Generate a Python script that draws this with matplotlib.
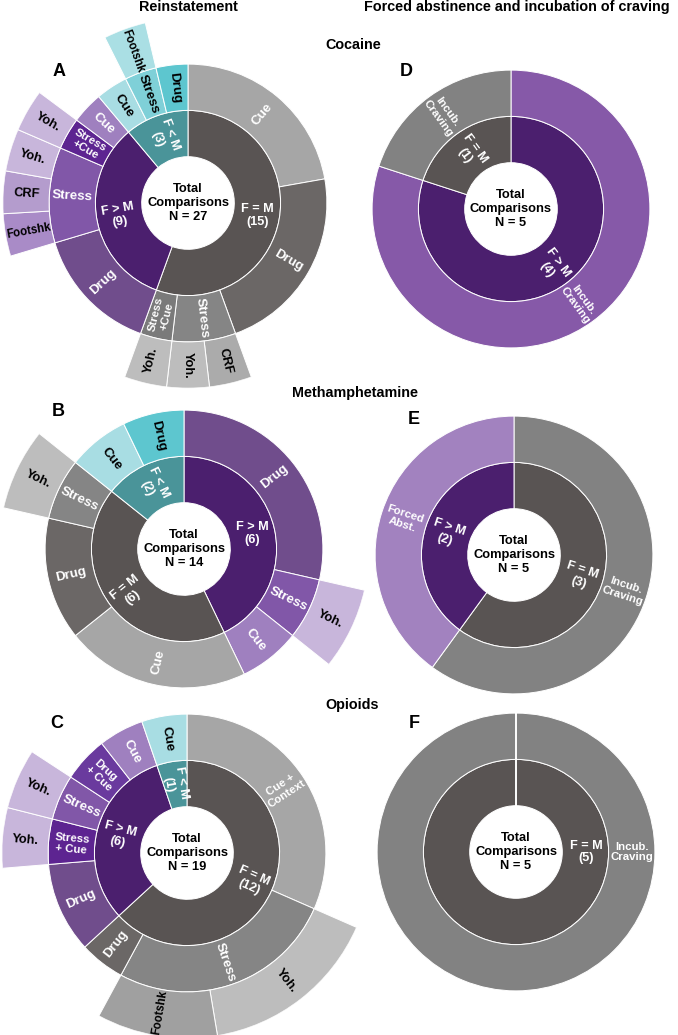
"""Sunbursts of sex differences in reinstatement and incubation of craving."""

import matplotlib.pyplot as plt
import numpy as np

plt.rcParams["font.family"] = ["Liberation Sans", "DejaVu Sans"]

# A - cocaine, reinstatement
a_groups = ["F = M", "F > M", "F < M"]
a_groups_n = [15, 9, 3]
a_tests = ["Cue", "Drug", "Stress", "Stress\n+Cue",
           "Drug", "Stress", "Stress\n+Cue", "Cue",
           "Cue", "Stress", "Drug"]
a_tests_n = [6, 6, 2, 1, 4, 3, 1, 1, 1, 1, 1]
a_tests_parent = [0, 0, 0, 0, 1, 1, 1, 1, 2, 2, 2]
a_stress = ["CRF", "Yoh.", "Yoh.", "Footshk", "CRF", "Yoh.", "Yoh.", "Footshk"]
a_stress_n = [1, 1, 1, 1, 1, 1, 1, 1]
a_stress_parent = [2, 2, 3, 5, 5, 5, 6, 9]

# B - methamphetamine, reinstatement
b_groups = ["F > M", "F = M", "F < M"]
b_groups_n = [6, 6, 2]
b_tests = ["Drug", "Stress", "Cue", "Cue", "Drug", "Stress", "Cue", "Drug"]
b_tests_n = [4, 1, 1, 3, 2, 1, 1, 1]
b_tests_parent = [0, 0, 0, 1, 1, 1, 2, 2]
b_stress = ["Yoh.", "Yoh."]
b_stress_n = [1, 1]
b_stress_parent = [1, 5]

# C - opioids, reinstatement
c_groups = ["F = M", "F > M", "F < M"]
c_groups_n = [12, 6, 1]
c_tests = ["Cue +\nContext", "Stress", "Drug",
           "Drug", "Stress\n+ Cue", "Stress", "Drug\n+ Cue", "Cue",
           "Cue"]
c_tests_n = [6, 5, 1, 2, 1, 1, 1, 1, 1]
c_tests_parent = [0, 0, 0, 1, 1, 1, 1, 1, 2]
c_stress = ["Yoh.", "Footshk", "Yoh.", "Yoh."]
c_stress_n = [3, 2, 1, 1]
c_stress_parent = [1, 1, 4, 5]

# D, E, F - forced abstinence / incubation of craving
d_groups = ["F > M", "F = M"]
d_groups_n = [4, 1]
d_tests = ["Incub.\nCraving", "Incub.\nCraving"]
d_tests_n = [4, 1]
d_tests_parent = [0, 1]

e_groups = ["F = M", "F > M"]
e_groups_n = [3, 2]
e_tests = ["Incub.\nCraving", "Forced\nAbst."]
e_tests_n = [3, 2]
e_tests_parent = [0, 1]

f_groups = ["F = M"]
f_groups_n = [5]
f_tests = ["Incub.\nCraving"]
f_tests_n = [5]
f_tests_parent = [0]

inner_colors = {"F = M": "#595453", "F > M": "#4B1F6E", "F < M": "#4A9499"}
test_colors = {
    "F = M": {"Cue": "#A6A6A6", "Drug": "#6B6766", "Stress": "#858585",
              "Stress\n+Cue": "#7A7A7A", "Cue +\nContext": "#A6A6A6",
              "Incub.\nCraving": "#828282"},
    "F > M": {"Drug": "#704D8C", "Stress": "#8157A8", "Stress\n+Cue": "#5D2491",
              "Stress\n+ Cue": "#5D2491", "Cue": "#9F80BF", "Drug\n+ Cue": "#6A3A9E",
              "Incub.\nCraving": "#8659A8", "Forced\nAbst.": "#A282BF"},
    "F < M": {"Cue": "#A8DDE3", "Stress": "#7FD0D8", "Drug": "#5DC6CF"},
}
stress_colors = {
    "F = M": {"Yoh.": "#BDBDBD", "CRF": "#ABABAB", "Footshk": "#A0A0A0"},
    "F > M": {"Yoh.": "#C8B6DB", "CRF": "#B49CCD", "Footshk": "#A98BC7"},
    "F < M": {"Footshk": "#AADFE4"},
}

W, H = 678, 1035
UNIT = 46.3  # ring width in pixels


def child_starts(parent_start, counts, parents):
    starts = []
    used = {}
    for n, p in zip(counts, parents):
        starts.append(parent_start[p] + used.get(p, 0))
        used[p] = used.get(p, 0) + n
    return starts


def put_label(ax, start, n, step, r, text, color, size):
    span = n * step
    mid = (start + n / 2) * step
    if span >= 2 * np.pi - 1e-9:
        mid, rot = np.pi / 2, 0.0
    else:
        rot = (90 - np.degrees(mid) + 180) % 360 - 180
        if rot < -90 or rot > 90:
            rot = (rot + 360) % 360 - 180
        if np.degrees(span) >= 120 and abs(rot) <= 15:
            rot = 0.0
    ax.text(mid, r, text, rotation=rot, rotation_mode="anchor", ha="center",
            va="center", color=color, fontsize=size, fontweight="bold",
            linespacing=1.1, multialignment="center")


def sunburst(cx, cy, groups, groups_n, tests, tests_n, tests_parent,
             stress=(), stress_n=(), stress_parent=()):
    size = 4 * UNIT
    ax = fig.add_axes([(cx - size) / W, (H - cy - size) / H, 2 * size / W, 2 * size / H],
                      projection="polar")
    ax.set_theta_zero_location("N")
    ax.set_theta_direction(-1)
    ax.set_ylim(0, 4)
    ax.axis("off")

    total = sum(groups_n)
    step = 2 * np.pi / total
    g_start = list(np.concatenate([[0], np.cumsum(groups_n)[:-1]]))
    t_start = child_starts(g_start, tests_n, tests_parent)
    s_start = child_starts(t_start, stress_n, stress_parent)

    for g, s0, n in zip(groups, g_start, groups_n):
        ax.bar((s0 + n / 2) * step, 1, width=n * step, bottom=1,
               color=inner_colors[g], edgecolor="white", linewidth=0.7)
        put_label(ax, s0, n, step, 1.52, f"{g}\n({n})", "white", 9.2)

    for t, s0, n, p in zip(tests, t_start, tests_n, tests_parent):
        g = groups[p]
        ax.bar((s0 + n / 2) * step, 1, width=n * step, bottom=2,
               color=test_colors[g][t], edgecolor="white", linewidth=0.7)
        cor = "black" if g == "F < M" else "white"
        put_label(ax, s0, n, step, 2.5, t, cor, 8.2 if "\n" in t else 9.6)

    for s, s0, n, p in zip(stress, s_start, stress_n, stress_parent):
        g = groups[tests_parent[p]]
        ax.bar((s0 + n / 2) * step, 1, width=n * step, bottom=3,
               color=stress_colors[g][s], edgecolor="white", linewidth=0.7)
        put_label(ax, s0, n, step, 3.5, s, "black", 8.3 if len(s) > 6 else 9.2)

    ax.text(0, 0, f"Total\nComparisons\nN = {total}", ha="center", va="center",
            fontsize=9.3, fontweight="bold", linespacing=1.2)
    return ax


fig = plt.figure(figsize=(W / 100, H / 100), dpi=100)

sunburst(188, 203, a_groups, a_groups_n, a_tests, a_tests_n, a_tests_parent,
         a_stress, a_stress_n, a_stress_parent)
sunburst(184, 549, b_groups, b_groups_n, b_tests, b_tests_n, b_tests_parent,
         b_stress, b_stress_n, b_stress_parent)
sunburst(187, 853, c_groups, c_groups_n, c_tests, c_tests_n, c_tests_parent,
         c_stress, c_stress_n, c_stress_parent)
sunburst(511, 209, d_groups, d_groups_n, d_tests, d_tests_n, d_tests_parent)
sunburst(514, 555, e_groups, e_groups_n, e_tests, e_tests_n, e_tests_parent)
sunburst(516, 852, f_groups, f_groups_n, f_tests, f_tests_n, f_tests_parent)


def fig_text(x, y, s, size):
    fig.text(x / W, 1 - y / H, s, ha="center", va="center", fontsize=size,
             fontweight="bold")


fig_text(188, 7, "Reinstatement", 10.4)
fig_text(517, 7, "Forced abstinence and incubation of craving", 10.4)
fig_text(353, 45, "Cocaine", 10.4)
fig_text(355, 393, "Methamphetamine", 10.4)
fig_text(352, 705, "Opioids", 10.4)
for letra, x, y in [("A", 59, 72), ("B", 58, 412), ("C", 57, 723),
                    ("D", 406, 72), ("E", 414, 420), ("F", 414, 723)]:
    fig_text(x, y, letra, 13)

fig.savefig("out.png", dpi=100)
plt.close(fig)
